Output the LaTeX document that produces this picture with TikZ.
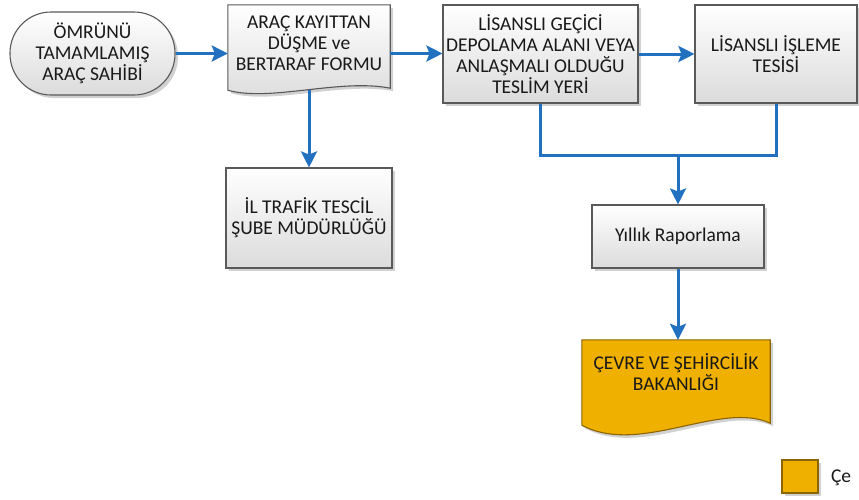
\documentclass[tikz,border=0pt]{standalone}
\usepackage{fontspec}
\setmainfont{Carlito}
\usetikzlibrary{arrows.meta,shadows,calc}
\definecolor{linkblue}{RGB}{34,113,192}
\definecolor{boxedge}{RGB}{89,89,89}
\definecolor{bakfill}{RGB}{240,176,0}
\definecolor{bakedge}{RGB}{140,100,0}
\begin{document}
\begin{tikzpicture}[x=1pt,y=-1pt,
    every node/.style={font=\fontsize{19.5}{21}\selectfont, text=black!90, align=center},
    graybox/.style={draw=boxedge, line width=1.1pt, top color=white, bottom color=black!14,
        drop shadow={shadow xshift=3pt, shadow yshift=-3pt, fill=black!40, opacity=.45}},
    procbox/.style={graybox, rectangle, inner sep=2pt},
    orangebox/.style={draw=bakedge, line width=1.1pt, fill=bakfill,
        drop shadow={shadow xshift=3pt, shadow yshift=-3pt, fill=black!40, opacity=.45}},
    arr/.style={draw=linkblue, line width=3pt, -{Stealth[length=16pt,width=16pt,inset=3pt]}},
    link/.style={draw=linkblue, line width=3pt}]
    \useasboundingbox (0,0) rectangle (859,499);

    % top row
    \node[graybox, rectangle, rounded corners=41pt, minimum width=165pt, minimum height=83pt] (sahip) at (92.5,53.5) {ÖMRÜNÜ\\TAMAMLAMIŞ\\ARAÇ SAHİBİ};
    \node[minimum width=162pt, minimum height=76pt, inner sep=0pt] (form) at (309,43) {};
    \node[procbox, minimum width=195pt, minimum height=98pt] (depo) at (540.5,54) {LİSANSLI GEÇİCİ\\DEPOLAMA ALANI VEYA\\ANLAŞMALI OLDUĞU\\TESLİM YERİ};
    \node[procbox, minimum width=162pt, minimum height=98pt] (tesis) at (776,54) {LİSANSLI İŞLEME\\TESİSİ};

    \draw[graybox] (form.north west) -- (form.north east) -- ($(form.south east)+(0,7)$)
        .. controls ($(form.south east)+(-50,-3)$) and ($(form.south west)+(42,21)$) .. ($(form.south west)+(0,9)$) -- cycle;
    \node at (form) {ARAÇ KAYITTAN\\DÜŞME ve\\BERTARAF FORMU};

    % lower boxes
    \node[procbox, minimum width=166pt, minimum height=100pt] (tescil) at (309,218) {İL TRAFİK TESCİL\\ŞUBE MÜDÜRLÜĞÜ};
    \node[procbox, minimum width=172pt, minimum height=63pt] (rapor) at (678,236.5) {Yıllık Raporlama};
    \node[minimum width=188pt, minimum height=64pt, inner sep=0pt] (bakanlik) at (676,372) {};
    \draw[orangebox] (bakanlik.north west) -- (bakanlik.north east) -- ($(bakanlik.south east)+(0,19)$)
        .. controls ($(bakanlik.south east)+(-50,-4)$) and ($(bakanlik.south west)+(58,52)$) .. ($(bakanlik.south west)+(0,21)$) -- cycle;
    \node at (bakanlik) {ÇEVRE VE ŞEHİRCİLİK\\BAKANLIĞI};

    % legend
    \node[orangebox, rectangle, minimum width=36pt, minimum height=33pt, inner sep=0pt] (lejant) at (800,476.5) {};
    \node[anchor=west] (lejanttext) at ($(lejant.east)+(9,1)$) {Çe};

    % connectors
    \draw[arr] (sahip) -- (form.west |- sahip);
    \draw[arr] (form.east |- sahip) -- (depo.west |- sahip);
    \draw[arr] (depo) -- (tesis);
    \draw[arr] ($(form.south)+(0,9)$) -- (tescil.north);
    \coordinate (birlesme) at (678,155);
    \draw[link] (depo.south) |- (birlesme) -| (tesis.south);
    \draw[arr] (birlesme) -- (rapor.north);
    \draw[arr] (rapor.south) -- (rapor.south |- bakanlik.north);
\end{tikzpicture}
\end{document}
